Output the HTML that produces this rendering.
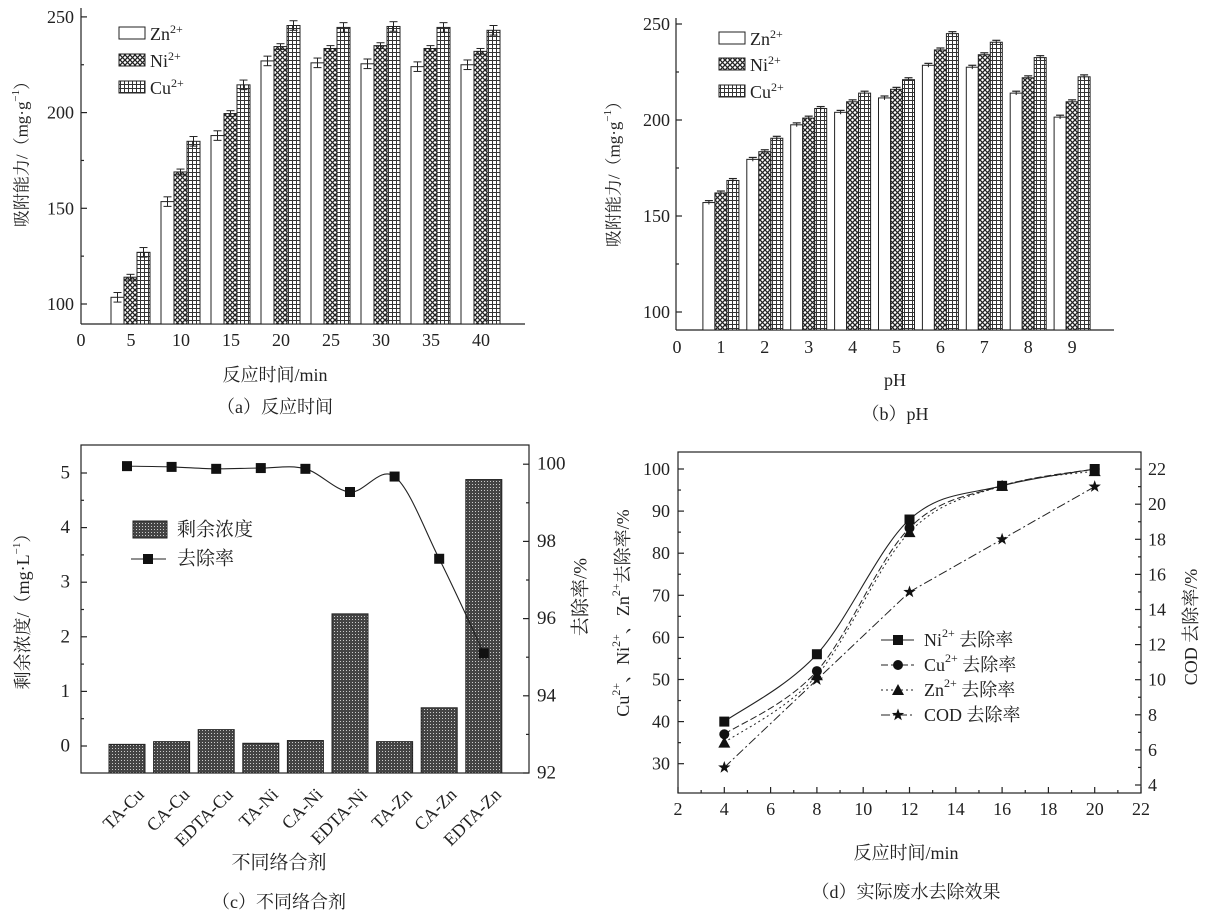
<!DOCTYPE html>
<html><head><meta charset="utf-8">
<style>
html,body{margin:0;padding:0;background:#fff;}
#wrap{position:relative;width:1205px;height:914px;overflow:hidden;}
svg{display:block;}
text{font-family:"Liberation Serif","Noto Serif CJK SC","Noto Sans CJK SC",serif;fill:#222;}
.rl{position:absolute;font-family:"Liberation Serif",serif;font-size:18px;color:#222;white-space:nowrap;line-height:18px;transform-origin:100% 0;transform:rotate(-45deg);}
</style></head>
<body>
<div id="wrap">
<svg id="s" width="1205" height="914" viewBox="0 0 1205 914" xmlns="http://www.w3.org/2000/svg">
<defs>
<pattern id="cross" width="5" height="5" patternUnits="userSpaceOnUse">
<rect width="5" height="5" fill="#fff"/>
<path d="M0,0L5,5M5,0L0,5" stroke="#222" stroke-width="1.3"/>
</pattern>
<pattern id="grid" width="4" height="4" patternUnits="userSpaceOnUse">
<rect width="4" height="4" fill="#fff"/>
<path d="M0,0.5H4M0.5,0V4" stroke="#333" stroke-width="1"/>
</pattern>
<pattern id="dots" width="3" height="3" patternUnits="userSpaceOnUse">
<rect width="3" height="3" fill="#444"/>
<rect x="1" y="1" width="1" height="1" fill="#ccc"/>
</pattern>
</defs>
<g id="g" stroke-linecap="butt"></g>
</svg>
<div class="rl" style="right:1070px;top:785px">TA-Cu</div>
<div class="rl" style="right:1025px;top:785px">CA-Cu</div>
<div class="rl" style="right:981px;top:785px">EDTA-Cu</div>
<div class="rl" style="right:936px;top:785px">TA-Ni</div>
<div class="rl" style="right:892px;top:785px">CA-Ni</div>
<div class="rl" style="right:847px;top:785px">EDTA-Ni</div>
<div class="rl" style="right:802px;top:785px">TA-Zn</div>
<div class="rl" style="right:758px;top:785px">CA-Zn</div>
<div class="rl" style="right:713px;top:785px">EDTA-Zn</div>
</div>
<script>
const g=document.getElementById('g');const NS='http://www.w3.org/2000/svg';
function el(t,a,txt){const e=document.createElementNS(NS,t);for(const k in a)e.setAttribute(k,a[k]);if(txt!==undefined)e.innerHTML=txt;g.appendChild(e);return e;}
function line(x1,y1,x2,y2,w,da){return el('line',{x1,y1,x2,y2,stroke:'#222','stroke-width':w||1.2,'stroke-dasharray':da||'none'});}
function txt(x,y,s,size,anchor,extra){const a={x,y,'font-size':size||16,'text-anchor':anchor||'middle','dominant-baseline':'central'};Object.assign(a,extra||{});return el('text',a,s);}
function smooth(pts){let d='M'+pts[0][0]+','+pts[0][1];for(let i=0;i<pts.length-1;i++){const p0=pts[i-1]||pts[i],p1=pts[i],p2=pts[i+1],p3=pts[i+2]||p2;const c1=[p1[0]+(p2[0]-p0[0])/6,p1[1]+(p2[1]-p0[1])/6],c2=[p2[0]-(p3[0]-p1[0])/6,p2[1]-(p3[1]-p1[1])/6];d+=`C${c1[0]},${c1[1]} ${c2[0]},${c2[1]} ${p2[0]},${p2[1]}`;}return d;}
const fills=['#fff','url(#cross)','url(#grid)'];
// ---------- (a) ----------
(function(){
const L=81,R=525,T=17,B=324;const y=v=>304-(v-100)*95.7/50;const x=t=>81+t*10;
line(L,8,L,B);line(L,B,R,B);
[100,150,200,250].forEach(v=>{line(L,y(v),L+6,y(v));txt(74,y(v),v,18,'end');});
[125,175,225].forEach(v=>line(L,y(v),L+3,y(v)));
[0,5,10,15,20,25,30,35,40].forEach(t=>txt(x(t),340,t,18));
const d=[[103.5,153.5,188,227,226,225.5,224,225],[114,169,199.5,234.5,233.5,235,233.5,232],[127,185,214.5,245.5,244.5,245,244.5,243]];
const off=[-20,-7,6];
for(let i=0;i<8;i++){const c=x(5*(i+1));for(let s=0;s<3;s++){const v=d[s][i];el('rect',{x:c+off[s],y:y(v),width:13,height:B-y(v),fill:fills[s],stroke:'#222','stroke-width':1});
const e=s==1?1.5:2.5;const cx=c+off[s]+6.5;line(cx,y(v+e),cx,y(v-e),1);line(cx-4,y(v+e),cx+4,y(v+e),1);line(cx-4,y(v-e),cx+4,y(v-e),1);}}
const lab=['Zn<tspan dy="-7" font-size="12">2+</tspan>','Ni<tspan dy="-7" font-size="12">2+</tspan>','Cu<tspan dy="-7" font-size="12">2+</tspan>'];
[27,54,81].forEach((yy,i)=>{el('rect',{x:119,y:yy,width:26,height:12,fill:fills[i],stroke:'#222','stroke-width':1});el('text',{x:150,y:yy+13,'font-size':18},lab[i]);});
txt(22,150,'吸附能力/（mg·g<tspan dy="-6" font-size="11">−1</tspan><tspan dy="6">）</tspan>',17,'middle',{transform:'rotate(-90 22 150)'});
txt(275,375,'反应时间/min',18);txt(275,407,'（a）反应时间',18);
})();
// ---------- (b) ----------
(function(){
const L=676,R=1114,B=330;const y=v=>312-(v-100)*96/50;const x=t=>677+t*43.9;
line(L,18,L,B);line(L,B,R,B);
[100,150,200,250].forEach(v=>{line(L,y(v),L+6,y(v));txt(670,y(v),v,18,'end');});
[125,175,225].forEach(v=>line(L,y(v),L+3,y(v)));
for(let t=0;t<=9;t++)txt(x(t),347,t,18);
const d=[[157,179.5,197.5,204,211.5,228.5,227.5,214,201.5],[162,183.5,201,209.5,216,236.5,234,222,209.5],[168.5,190.5,206,214,221,245,240.5,232.5,222.5]];
const off=[-18,-6,6];
for(let i=0;i<9;i++){const c=x(i+1);for(let s=0;s<3;s++){const v=d[s][i];el('rect',{x:c+off[s],y:y(v),width:12,height:B-y(v),fill:fills[s],stroke:'#222','stroke-width':1});
const e=1;const cx=c+off[s]+6;line(cx-4,y(v+e),cx+4,y(v+e),1.2);line(cx,y(v+e),cx,y(v-e),1);}}
const lab=['Zn<tspan dy="-7" font-size="12">2+</tspan>','Ni<tspan dy="-7" font-size="12">2+</tspan>','Cu<tspan dy="-7" font-size="12">2+</tspan>'];
[32,58,85].forEach((yy,i)=>{el('rect',{x:719,y:yy,width:26,height:12,fill:fills[i],stroke:'#222','stroke-width':1});el('text',{x:750,y:yy+13,'font-size':18},lab[i]);});
txt(614,170,'吸附能力/（mg·g<tspan dy="-6" font-size="11">−1</tspan><tspan dy="6">）</tspan>',17,'middle',{transform:'rotate(-90 614 170)'});
txt(895,380,'pH',18);txt(895,414,'（b）pH',18);
})();
// ---------- (c) ----------
(function(){
const L=81,R=529,T=445,B=773;const y=v=>746-v*54.6;const yr=v=>773-(v-92)*38.6;
el('rect',{x:L,y:T,width:R-L,height:B-T,fill:'none',stroke:'#222','stroke-width':1.2});
[0,1,2,3,4,5].forEach(v=>{line(L,y(v),L+6,y(v));txt(70,y(v),v,19,'end');});
[0.5,1.5,2.5,3.5,4.5].forEach(v=>line(L,y(v),L+3,y(v)));
[92,94,96,98,100].forEach(v=>{line(R,yr(v),R-6,yr(v));txt(537,yr(v),v,19,'start');});
[93,95,97,99].forEach(v=>line(R,yr(v),R-3,yr(v)));
const vals=[0.03,0.08,0.3,0.05,0.1,2.42,0.08,0.7,4.88];
const rr=[99.95,99.93,99.88,99.9,99.88,99.28,99.68,97.55,95.1];
const pts=[];
for(let i=0;i<9;i++){const c=127+i*44.6;el('rect',{x:c-18,y:y(vals[i]),width:36,height:B-y(vals[i]),fill:'url(#dots)',stroke:'#222','stroke-width':1});
pts.push([c,yr(rr[i])]);}
el('path',{d:smooth(pts),fill:'none',stroke:'#222','stroke-width':1.1});
pts.forEach(p=>el('rect',{x:p[0]-5,y:p[1]-5,width:10,height:10,fill:'#111'}));
el('rect',{x:133,y:521,width:34,height:17,fill:'url(#dots)',stroke:'#222'});txt(177,530,'剩余浓度',19,'start');
line(131,559,166,559,1.1);el('rect',{x:143,y:554,width:10,height:10,fill:'#111'});txt(177,559,'去除率',19,'start');
txt(23,607,'剩余浓度/（mg·L<tspan dy="-6" font-size="11">−1</tspan><tspan dy="6">）</tspan>',18,'middle',{transform:'rotate(-90 23 607)'});
txt(581,597,'去除率/%',19,'middle',{transform:'rotate(-90 581 597)'});
txt(279,863,'不同络合剂',19);txt(279,902,'（c）不同络合剂',18);
})();
// ---------- (d) ----------
(function(){
const L=678,R=1141,T=452,B=793;const x=t=>678+(t-2)*46.3/2;const y=v=>469+(100-v)*4.21;const yr=v=>785-(v-4)*35.1/2;
el('rect',{x:L,y:T,width:R-L,height:B-T,fill:'none',stroke:'#222','stroke-width':1.2});
for(let t=2;t<=22;t++){const big=t%2==0;line(x(t),B,x(t),B-(big?6:3));if(big)txt(x(t),809,t,18);}
for(let v=30;v<=100;v+=5){const big=v%10==0;line(L,y(v),L+(big?6:3),y(v));if(big)txt(670,y(v),v,18,'end');}
for(let v=4;v<=22;v++){const big=v%2==0;line(R,yr(v),R-(big?6:3),yr(v));if(big)txt(1148,yr(v),v,18,'start');}
const ts=[4,8,12,16,20];
const ni=[40,56,88,96,100],cu=[37,52,86,96,100],zn=[35,51,85,96,99.5],cod=[5,10,15,18,21];
el('path',{d:smooth(ts.map((t,i)=>[x(t),y(ni[i])])),fill:'none',stroke:'#222','stroke-width':1.1});
el('path',{d:smooth(ts.map((t,i)=>[x(t),y(cu[i])])),fill:'none',stroke:'#222','stroke-width':1,'stroke-dasharray':'7,3'});
el('path',{d:smooth(ts.map((t,i)=>[x(t),y(zn[i])])),fill:'none',stroke:'#222','stroke-width':1,'stroke-dasharray':'2,3'});
el('path',{d:'M'+ts.map((t,i)=>x(t)+','+yr(cod[i])).join('L'),fill:'none',stroke:'#222','stroke-width':1,'stroke-dasharray':'9,3,2,3'});
const sq=(cx,cy)=>el('rect',{x:cx-5,y:cy-5,width:10,height:10,fill:'#111'});
const ci=(cx,cy)=>el('circle',{cx,cy,r:5,fill:'#111'});
const tr=(cx,cy)=>el('path',{d:`M${cx},${cy-6}L${cx+6},${cy+5}L${cx-6},${cy+5}Z`,fill:'#111'});
const st=(cx,cy)=>{let d='';for(let k=0;k<10;k++){const r=k%2?2.6:6.5,a=-Math.PI/2+k*Math.PI/5;d+=(k?'L':'M')+(cx+r*Math.cos(a))+','+(cy+r*Math.sin(a));}el('path',{d:d+'Z',fill:'#111'});};
ts.forEach((t,i)=>{sq(x(t),y(ni[i]));ci(x(t),y(cu[i]));tr(x(t),y(zn[i]));st(x(t),yr(cod[i]));});
const leg=[['Ni',sq,'none'],['Cu',ci,'7,3'],['Zn',tr,'2,3'],['COD',st,'9,3,2,3']];
leg.forEach((l,i)=>{const yy=640+i*25;line(881,yy,914,yy,1,l[2]);l[1](898,yy);
txt(924,yy,i<3?`${l[0]}<tspan dy="-7" font-size="12">2+</tspan><tspan dy="7"> 去除率</tspan>`:'COD 去除率',18,'start');});
txt(623,613,'Cu<tspan dy="-7" font-size="12">2+</tspan><tspan dy="7">、Ni</tspan><tspan dy="-7" font-size="12">2+</tspan><tspan dy="7">、Zn</tspan><tspan dy="-7" font-size="12">2+</tspan><tspan dy="7">去除率/%</tspan>',18,'middle',{transform:'rotate(-90 623 613)'});
txt(1191,627,'COD 去除率/%',18,'middle',{transform:'rotate(-90 1191 627)'});
txt(906,853,'反应时间/min',18);txt(906,892,'（d）实际废水去除效果',18);
})();
</script>
</body></html>
